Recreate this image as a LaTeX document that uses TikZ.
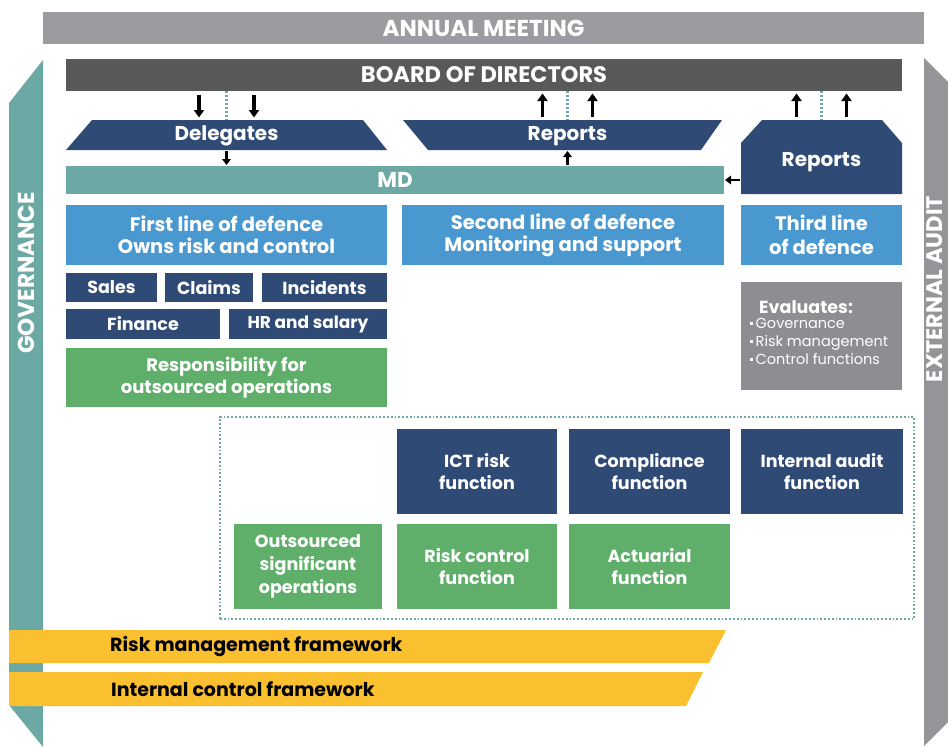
\documentclass[tikz,border=0pt]{standalone}
\usepackage{fontspec}
\setmainfont{Poppins}
\usetikzlibrary{arrows.meta,calc}
\definecolor{cannual}{HTML}{9A9C9F}
\definecolor{cboard}{HTML}{58595B}
\definecolor{cnavy}{HTML}{2F4A75}
\definecolor{cteal}{HTML}{6CA9A5}
\definecolor{cblue}{HTML}{4A98D0}
\definecolor{cgreen}{HTML}{5FAF6B}
\definecolor{ceval}{HTML}{8D8E91}
\definecolor{cyellow}{HTML}{FBC02F}
\definecolor{cext}{HTML}{939598}
\newcommand\sqb{\raisebox{3pt}{\rule{3pt}{3pt}}\hspace{2.5pt}}
\begin{document}
\begin{tikzpicture}[x=1pt,y=-1pt,
  box/.style={inner sep=0pt, outer sep=0pt, align=center, text=white,
    font=\bfseries\fontsize{17.5}{22}\selectfont},
  area/.style={inner sep=0pt, outer sep=0pt},
  lbl/.style={inner sep=0pt, text=white, font=\bfseries\fontsize{20}{24}\selectfont},
  arr/.style={line width=3.2pt, -{Triangle[width=10pt,length=7.5pt]}, shorten <=3.5pt, shorten >=2.5pt},
  arrs/.style={line width=2.8pt, -{Triangle[width=8.5pt,length=6pt]}, shorten <=1pt, shorten >=1pt},
  dotln/.style={cteal, line width=2.4pt, dash pattern=on 2pt off 2pt},
  side/.style={inner sep=0pt, text=white, rotate=90, font=\bfseries\fontsize{23}{26}\selectfont},
  yel/.style={inner sep=0pt, text=black, font=\bfseries\fontsize{19}{22}\selectfont}
]
\useasboundingbox (0,0) rectangle (948,747);
\clip (0,0) rectangle (948,747);
\fill[white] (0,0) rectangle (948,747);

% side bars
\fill[cteal] (9,103) -- (43,60) -- (43,747) -- (9,705) -- cycle;
\fill[cext] (924,58) -- (962,96) -- (962,708) -- (924,746) -- cycle;
\node[side] (gov) at (26,273) {GOVERNANCE};
\node[side, font=\bfseries\fontsize{22.5}{26}\selectfont] (ext) at (934.5,289) {EXTERNAL AUDIT};

% top bars
\node[box, fill=cannual, minimum width=881pt, minimum height=32pt, font=\bfseries\fontsize{23}{26}\selectfont] (annual) at (483.5,28) {ANNUAL MEETING};
\node[box, fill=cboard, minimum width=836pt, minimum height=32pt, font=\bfseries\fontsize{22.5}{26}\selectfont] (board) at (484,75) {BOARD OF DIRECTORS};

% trapezoids
\node[area, minimum width=321pt, minimum height=30pt] (deleg) at (226.5,135) {};
\fill[cnavy] (deleg.south west) -- ([xshift=26pt]deleg.north west) -- ([xshift=-24pt]deleg.north east) -- (deleg.south east) -- cycle;
\node[lbl] (delegt) at ([yshift=-0.5pt]deleg.center) {Delegates};

\node[area, minimum width=319pt, minimum height=30pt] (rep1) at (562.5,135) {};
\fill[cnavy] (rep1.north west) -- ([xshift=25pt]rep1.south west) -- ([xshift=-21pt]rep1.south east) -- (rep1.north east) -- cycle;
\node[lbl] (rep1t) at ([xshift=5pt,yshift=-1.5pt]rep1.center) {Reports};

\node[area, minimum width=161pt, minimum height=74pt] (rep2) at (821.5,157) {};
\fill[cnavy] ([xshift=21pt]rep2.north west) -- ([xshift=-20pt]rep2.north east) -- ([yshift=-23pt]rep2.north east) -- (rep2.south east) -- (rep2.south west) -- ([yshift=-23pt]rep2.north west) -- cycle;
\node[lbl] (rep2t) at ([yshift=-5pt]rep2.center) {Reports};

% MD
\node[box, fill=cteal, minimum width=658pt, minimum height=28pt, font=\bfseries\fontsize{21.5}{24}\selectfont] (md) at (395,180) {MD};

% arrows board <-> delegates / reports
\draw[arr] ($(board.south -| deleg.north)+(-27.5,0)$) -- ($(deleg.north)+(-27.5,0)$);
\draw[arr] ($(board.south -| deleg.north)+(27.5,0)$) -- ($(deleg.north)+(27.5,0)$);
\draw[dotln] (board.south -| deleg.north) -- (deleg.north);
\draw[arrs] (deleg.south) -- (md.north -| deleg.south);

\draw[arr] ($(rep1.north -| rep1t.north)+(-25,0)$) -- ($(board.south -| rep1t.north)+(-25,0)$);
\draw[arr] ($(rep1.north -| rep1t.north)+(25,0)$) -- ($(board.south -| rep1t.north)+(25,0)$);
\draw[dotln] (board.south -| rep1t.north) -- (rep1.north -| rep1t.north);
\draw[arrs] (md.north -| rep1t.north) -- (rep1.south -| rep1t.north);

\draw[arr] ($(rep2.north)+(-25,0)$) -- ($(board.south -| rep2.north)+(-25,0)$);
\draw[arr] ($(rep2.north)+(25,0)$) -- ($(board.south -| rep2.north)+(25,0)$);
\draw[dotln] (board.south -| rep2.north) -- (rep2.north);
\draw[arrs] (md.east -| rep2.west) -- (md.east);

% lines of defence
\node[box, fill=cblue, minimum width=321pt, minimum height=60pt, font=\bfseries\fontsize{19.5}{22}\selectfont] (first) at (226.5,235) {First line of defence\\Owns risk and control};
\node[box, fill=cblue, minimum width=322pt, minimum height=60pt, font=\bfseries\fontsize{19.5}{22}\selectfont] (second) at (563,235) {Second line of defence\\Monitoring and support};
\node[box, fill=cblue, minimum width=161pt, minimum height=60pt, font=\bfseries\fontsize{19.5}{24}\selectfont] (third) at (821.5,235) {Third line\\of defence};

% first line units
\node[box, fill=cnavy, minimum width=91pt, minimum height=29pt] (sales) at (111.5,287.5) {Sales};
\node[box, fill=cnavy, minimum width=88pt, minimum height=29pt] (claims) at (209,287.5) {Claims};
\node[box, fill=cnavy, minimum width=125pt, minimum height=29pt] (incid) at (324.5,287.5) {Incidents};
\node[box, fill=cnavy, minimum width=154pt, minimum height=30pt] (fin) at (143,324) {Finance};
\node[box, fill=cnavy, minimum width=158pt, minimum height=30pt, font=\bfseries\fontsize{17}{22}\selectfont] (hr) at (308,324) {HR and salary};
\node[box, fill=cgreen, minimum width=321pt, minimum height=59pt, font=\bfseries\fontsize{18}{22.5}\selectfont] (resp) at (226.5,377.5) {Responsibility for\\outsourced operations};

% evaluates
\node[box, fill=ceval, minimum width=161pt, minimum height=108pt] (eval) at (821.5,336) {};
\node[anchor=west, inner sep=0pt, text=white, font=\bfseries\fontsize{17.5}{20}\selectfont] (evalt) at ([shift={(18,25)}]eval.north west) {Evaluates:};
\node[anchor=north west, inner sep=0pt, align=left, text=white, font=\fontsize{14.5}{17.8}\selectfont] (evali) at ([shift={(9,36)}]eval.north west) {\sqb Governance\\\sqb Risk management\\\sqb Control functions};

% dotted frame
\node[area, draw=cteal, line width=2.2pt, dash pattern=on 1.8pt off 2pt, minimum width=694pt, minimum height=202pt] (frame) at (567,518) {};

\node[box, fill=cnavy, minimum width=160pt, minimum height=85pt] (ict) at (477,471.5) {ICT risk\\function};
\node[box, fill=cnavy, minimum width=161pt, minimum height=85pt] (compl) at (649.5,471.5) {Compliance\\function};
\node[box, fill=cnavy, minimum width=162pt, minimum height=85pt] (iaud) at (822,471.5) {Internal audit\\function};
\node[box, fill=cgreen, minimum width=148pt, minimum height=85pt, font=\bfseries\fontsize{17.5}{23}\selectfont] (outs) at (308,566.5) {Outsourced\\significant\\operations};
\node[box, fill=cgreen, minimum width=160pt, minimum height=85pt] (riskc) at (477,566.5) {Risk control\\function};
\node[box, fill=cgreen, minimum width=161pt, minimum height=85pt] (actu) at (649.5,566.5) {Actuarial\\function};

% frameworks
\fill[cyellow] (9,630) -- (726,630) -- (709,663) -- (9,663) -- cycle;
\node[yel, anchor=west] (rmf) at (110,646.5) {Risk management framework};
\fill[cyellow] (9,672) -- (703,672) -- (686,706) -- (9,706) -- cycle;
\node[yel, anchor=west] (icf) at (111,689) {Internal control framework};
\end{tikzpicture}
\end{document}
